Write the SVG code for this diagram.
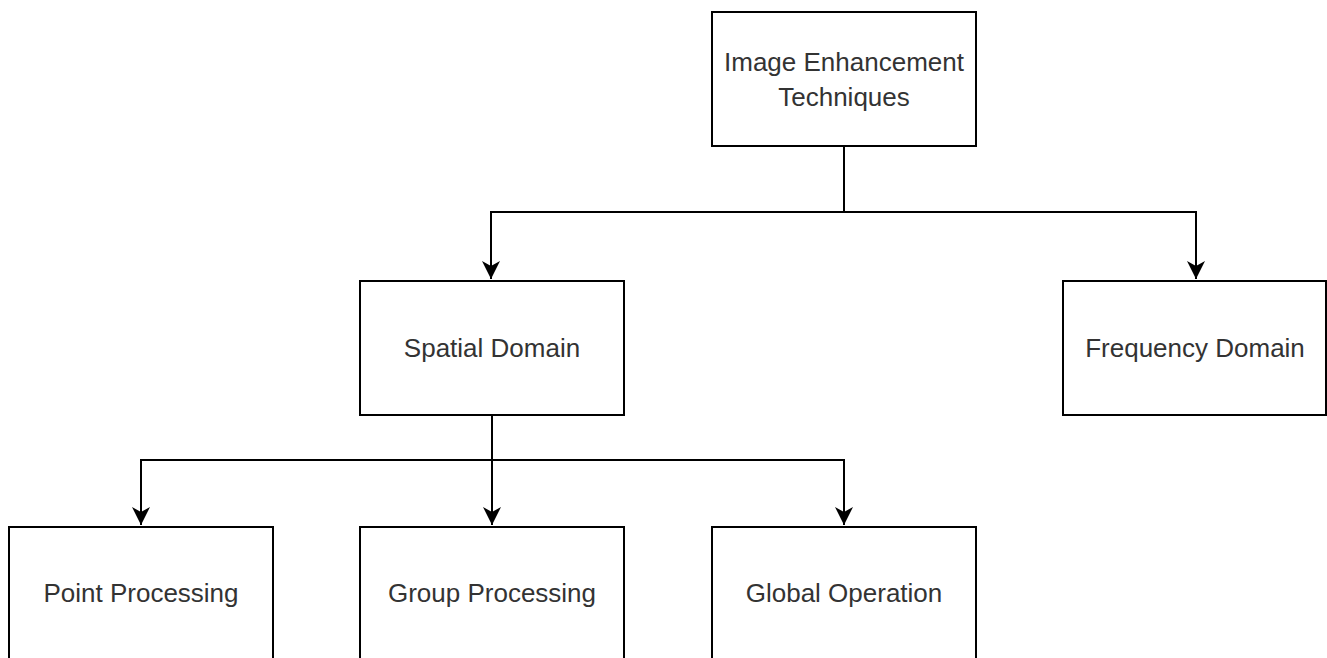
<svg xmlns="http://www.w3.org/2000/svg" width="1327" height="658" viewBox="0 0 1327 658">
<style>
.box{fill:#fff;stroke:#000;stroke-width:2}
.lbl{font-family:"Liberation Sans",Arial,sans-serif;font-size:26px;fill:#333;text-anchor:middle;dominant-baseline:central}
.edge{fill:none;stroke:#000;stroke-width:2}
</style>
<defs>
<marker id="arr" markerUnits="userSpaceOnUse" markerWidth="20" markerHeight="20" viewBox="0 0 20 20" refX="18" refY="10" orient="auto">
<path d="M0,1 L18,10 L0,19 L5,10 Z" fill="#000"/>
</marker>
</defs>
<rect width="1327" height="658" fill="#fff"/>
<g id="connectors">
<path class="edge" d="M844,146 V212 H491 V279" marker-end="url(#arr)"/>
<path class="edge" d="M844,212 H1196 V279" marker-end="url(#arr)"/>
<path class="edge" d="M492,415 V460 H141 V525" marker-end="url(#arr)"/>
<path class="edge" d="M492,460 V525" marker-end="url(#arr)"/>
<path class="edge" d="M492,460 H844 V525" marker-end="url(#arr)"/>
</g>
<g id="image-enhancement">
<rect class="box" x="712" y="12" width="264" height="134"/>
<text class="lbl" x="844" y="62">Image Enhancement</text>
<text class="lbl" x="844" y="97">Techniques</text>
</g>
<g id="spatial-domain">
<rect class="box" x="360" y="281" width="264" height="134"/>
<text class="lbl" x="492" y="348">Spatial Domain</text>
</g>
<g id="frequency-domain">
<rect class="box" x="1063" y="281" width="263" height="134"/>
<text class="lbl" x="1195" y="348">Frequency Domain</text>
</g>
<g id="point-processing">
<rect class="box" x="9" y="527" width="264" height="134"/>
<text class="lbl" x="141" y="593">Point Processing</text>
</g>
<g id="group-processing">
<rect class="box" x="360" y="527" width="264" height="134"/>
<text class="lbl" x="492" y="593">Group Processing</text>
</g>
<g id="global-operation">
<rect class="box" x="712" y="527" width="264" height="134"/>
<text class="lbl" x="844" y="593">Global Operation</text>
</g>
</svg>
